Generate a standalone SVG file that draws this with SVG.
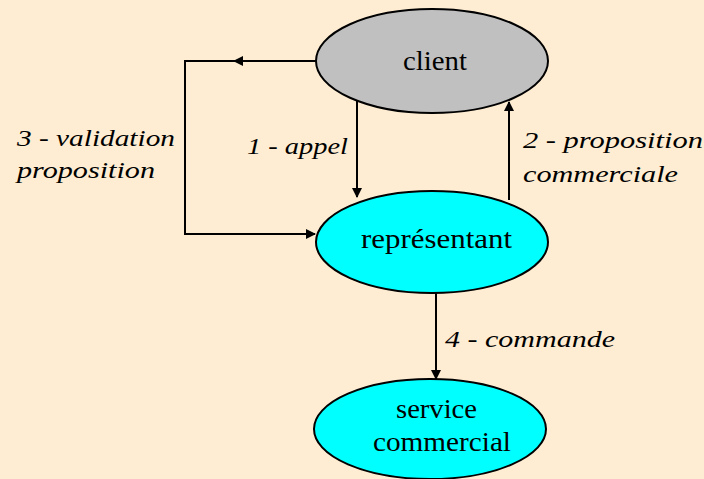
<svg xmlns="http://www.w3.org/2000/svg" width="704" height="479" viewBox="0 0 704 479">
<defs>
<style>
.node{stroke:#000;stroke-width:2}
.nt{font-family:"Liberation Serif","Times New Roman",serif;font-size:27px;fill:#000}
.lbl{font-family:"Liberation Serif","Times New Roman",serif;font-style:italic;font-size:23px;fill:#000}
.edge{fill:none;stroke:#000;stroke-width:2}
</style>
<marker id="ah" markerWidth="10" markerHeight="10" refX="9" refY="5" orient="auto" markerUnits="userSpaceOnUse">
<path d="M0,0 L10,5 L0,10 Z" fill="#000"/>
</marker>
</defs>
<rect width="704" height="479" fill="#FEEDD2"/>
<g id="connectors">
<path class="edge" d="M316,61 H185 V234 H315" marker-end="url(#ah)"/>
<path d="M233,61 L243,56 L243,66 Z" fill="#000"/>
<path class="edge" d="M357,99 V197" marker-end="url(#ah)"/>
<path class="edge" d="M509,200 V102" marker-end="url(#ah)"/>
<path class="edge" d="M436,293 V379" marker-end="url(#ah)"/>
</g>
<g id="labels">
<text class="lbl" x="247" y="154" textLength="101" lengthAdjust="spacingAndGlyphs">1 - appel</text>
<text class="lbl" x="523" y="148" textLength="180" lengthAdjust="spacingAndGlyphs">2 - proposition</text>
<text class="lbl" x="523" y="182" textLength="155" lengthAdjust="spacingAndGlyphs">commerciale</text>
<text class="lbl" x="17" y="146" textLength="158" lengthAdjust="spacingAndGlyphs">3 - validation</text>
<text class="lbl" x="17" y="178" textLength="138" lengthAdjust="spacingAndGlyphs">proposition</text>
<text class="lbl" x="445" y="347" textLength="170" lengthAdjust="spacingAndGlyphs">4 - commande</text>
</g>
<g id="client">
<ellipse class="node" cx="432" cy="61" rx="116" ry="52" fill="#C0C0C0"/>
<text class="nt" x="403" y="70" textLength="64" lengthAdjust="spacingAndGlyphs">client</text>
</g>
<g id="representant">
<ellipse class="node" cx="432" cy="242" rx="116" ry="51" fill="#00FFFF"/>
<text class="nt" x="361" y="248" textLength="151" lengthAdjust="spacingAndGlyphs">représentant</text>
</g>
<g id="service-commercial">
<ellipse class="node" cx="430" cy="429" rx="116" ry="50" fill="#00FFFF"/>
<text class="nt" x="396" y="418" textLength="81" lengthAdjust="spacingAndGlyphs">service</text>
<text class="nt" x="373" y="451" textLength="138" lengthAdjust="spacingAndGlyphs">commercial</text>
</g>
</svg>
